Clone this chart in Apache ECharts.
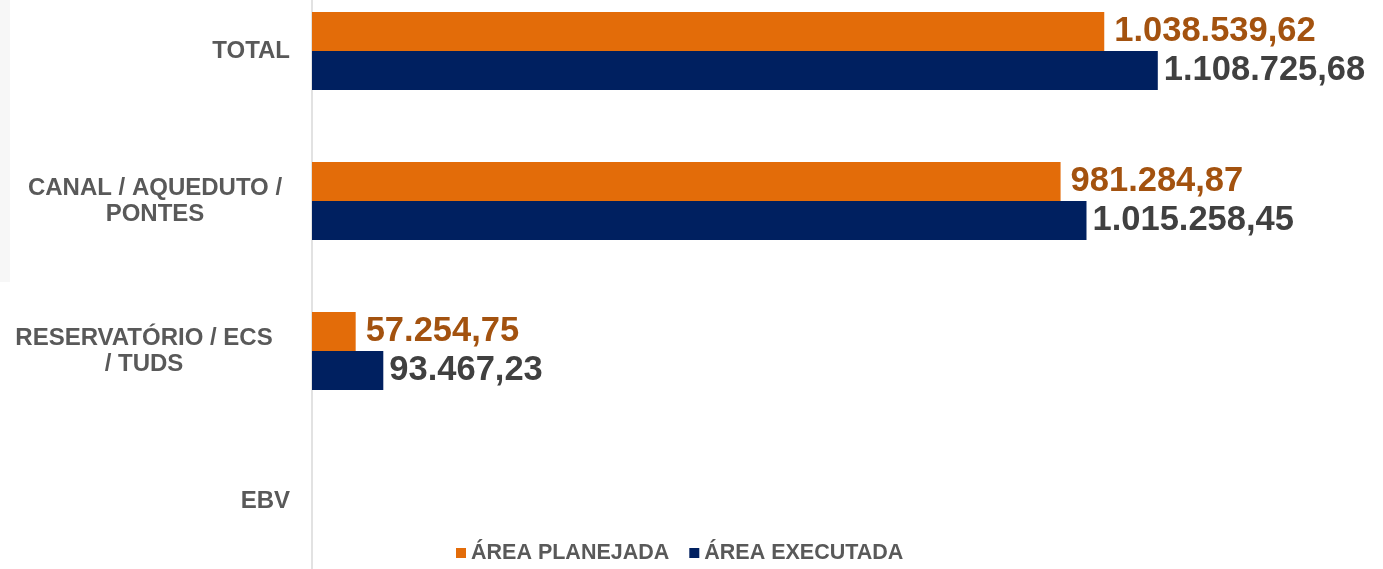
<!DOCTYPE html>
<html>
<head>
<meta charset="utf-8">
<script src="https://cdn.jsdelivr.net/npm/echarts@6/dist/echarts.min.js"></script>
<style>
    html, body { margin: 0; padding: 0; background: #ffffff; }
    #chart-box { width: 1383px; height: 569px; }
</style>
</head>
<body>
<div id="chart-box"></div>
<script>
// categories, top to bottom
var categories = ['TOTAL', 'CANAL / AQUEDUTO /\nPONTES', 'RESERVATÓRIO / ECS\n/ TUDS', 'EBV'];
var seriesNames = ['ÁREA PLANEJADA', 'ÁREA EXECUTADA'];
var areaPlanejada = [1038539.62, 981284.87, 57254.75, null];
var areaExecutada = [1108725.68, 1015258.45, 93467.23, null];

// pt-BR number format: 1.038.539,62
function formatValue(v) {
    var parts = v.toFixed(2).split('.');
    var intPart = parts[0].replace(/\B(?=(\d{3})+(?!\d))/g, '.');
    return intPart + ',' + parts[1];
}

// two-line labels are centred on their own lines, like in excel
function formatCategory(value, idx) {
    var lines = value.split('\n');
    if (lines.length == 1) return value;
    var style = idx == 1 ? 'canal' : 'res';
    return lines.map(function(l) { return '{' + style + '|' + l + '}'; }).join('\n');
}

var chart = echarts.init(document.getElementById('chart-box'));
var font = 'Liberation Sans, Arial, sans-serif';

var labelText = {
    fontFamily: font,
    fontWeight: 'bold',
    fontSize: 24,
    lineHeight: 26,
    color: '#595959',
    align: 'center'
};

var option = {
    backgroundColor: '#ffffff',
    animation: false,
    graphic: [{
        type: 'rect',
        left: 0,
        top: 0,
        shape: { width: 10, height: 282 },
        style: { fill: '#f7f7f7' },
        z: -10
    }],
    legend: {
        top: 537,
        left: 451,
        itemWidth: 10,
        itemHeight: 10,
        itemGap: 20,
        icon: 'rect',
        textStyle: {
            fontFamily: font,
            fontWeight: 'bold',
            fontSize: 21.5,
            color: '#595959'
        },
        data: seriesNames
    },
    grid: {
        left: 312,
        right: 3,
        top: -24,
        bottom: -7,
        containLabel: false,
        outerBoundsMode: 'none'
    },
    xAxis: {
        type: 'value',
        min: 0,
        max: 1400000,
        show: false
    },
    yAxis: {
        type: 'category',
        inverse: true,
        data: categories,
        axisLine: { show: true, lineStyle: { color: '#d9d9d9', width: 1.5 } },
        axisTick: { show: false },
        axisLabel: {
            margin: 22,
            fontFamily: font,
            fontWeight: 'bold',
            fontSize: 24,
            lineHeight: 26,
            color: '#595959',
            formatter: formatCategory,
            rich: {
                canal: Object.assign({ width: 270 }, labelText),
                res: Object.assign({ width: 292 }, labelText)
            }
        }
    },
    series: [{
        name: seriesNames[0],
        type: 'bar',
        data: areaPlanejada,
        barWidth: 39,
        barGap: '0%',
        itemStyle: { color: '#e36c09' },
        label: {
            show: true,
            position: 'right',
            distance: 10,
            fontFamily: font,
            fontWeight: 'bold',
            fontSize: 34.5,
            color: '#a3520f',
            formatter: function(p) { return p.value == null ? '' : formatValue(p.value); }
        }
    }, {
        name: seriesNames[1],
        type: 'bar',
        data: areaExecutada,
        barWidth: 39,
        itemStyle: { color: '#002060' },
        label: {
            show: true,
            position: 'right',
            distance: 6,
            fontFamily: font,
            fontWeight: 'bold',
            fontSize: 34.5,
            color: '#404040',
            formatter: function(p) { return p.value == null ? '' : formatValue(p.value); }
        }
    }]
};

chart.setOption(option);
</script>
</body>
</html>
